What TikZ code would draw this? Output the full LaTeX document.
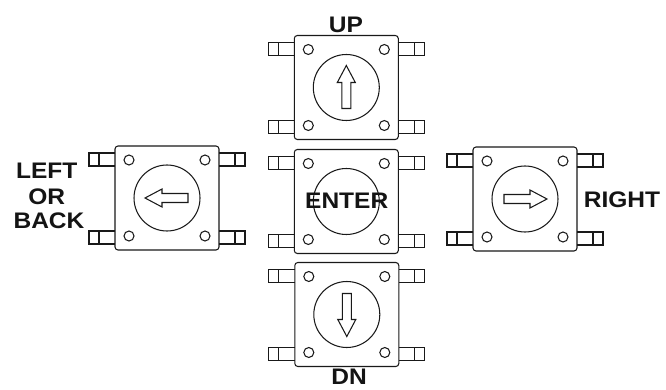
\documentclass[tikz,border=0pt]{standalone}
\usepackage{fontspec}
\setmainfont[FakeStretch=1.09]{Liberation Sans}
\tikzset{
    outline/.style={draw=black!90, line width=1.05pt},
    caption/.style={font=\fontsize{22.5}{26}\selectfont\bfseries, text=black!92, inner sep=0pt},
    button/.pic={
        % Boitier et bouton central
        \draw[outline, rounded corners=3] (-52,-52) rectangle (52,52);
        \draw[outline] (0,0) circle (33);
        % Trous de fixation
        \draw[outline] (-38,-38) circle (5);
        \draw[outline] (38,-38) circle (5);
        \draw[outline] (-38,38) circle (5);
        \draw[outline] (38,38) circle (5);
        % Pattes
        \draw[outline] (-52,-45) -- (-78,-45) -- (-78,-32) -- (-52,-32);
        \draw[outline] (-68,-45) -- (-68,-32);
        \draw[outline] (-52,33) -- (-78,33) -- (-78,46) -- (-52,46);
        \draw[outline] (-68,33) -- (-68,46);
        \draw[outline] (52,-45) -- (78,-45) -- (78,-32) -- (52,-32);
        \draw[outline] (68,-45) -- (68,-32);
        \draw[outline] (52,33) -- (78,33) -- (78,46) -- (52,46);
        \draw[outline] (68,33) -- (68,46);
    },
    arrowmark/.pic={
        \draw[outline, line join=miter] (0,-22) -- (9,-5) -- (4.5,-5) -- (4.5,21)
            -- (-4.5,21) -- (-4.5,-5) -- (-9,-5) -- cycle;
    }
}
\begin{document}
\begin{tikzpicture}[x=1pt, y=-1pt]
    \useasboundingbox (0,0) rectangle (666,390);

    % Les cinq boutons
    \pic at (346.3,87.5) {button};
    \pic at (346.3,201.5) {button};
    \pic at (346.8,314.5) {button};
    \pic at (167,198) {button};
    \pic at (525,199) {button};

    % Les fleches
    \pic at (346.3,87.5) {arrowmark};
    \pic[rotate=180] at (346.8,314.5) {arrowmark};
    \pic[rotate=90] at (167,198) {arrowmark};
    \pic[rotate=-90] at (525,199) {arrowmark};

    % Les libelles
    \node[caption] (up) at (346,24.5) {UP};
    \node[caption] (enter) at (346.7,200.5) {ENTER};
    \node[caption] (dn) at (349,377) {DN};
    \node[caption] (right) at (622,200) {RIGHT};
    \node[caption] (left) at (46.7,170.7) {LEFT};
    \node[caption] (or) at (46.7,196.7) {OR};
    \node[caption] (back) at (49,221) {BACK};
\end{tikzpicture}
\end{document}
